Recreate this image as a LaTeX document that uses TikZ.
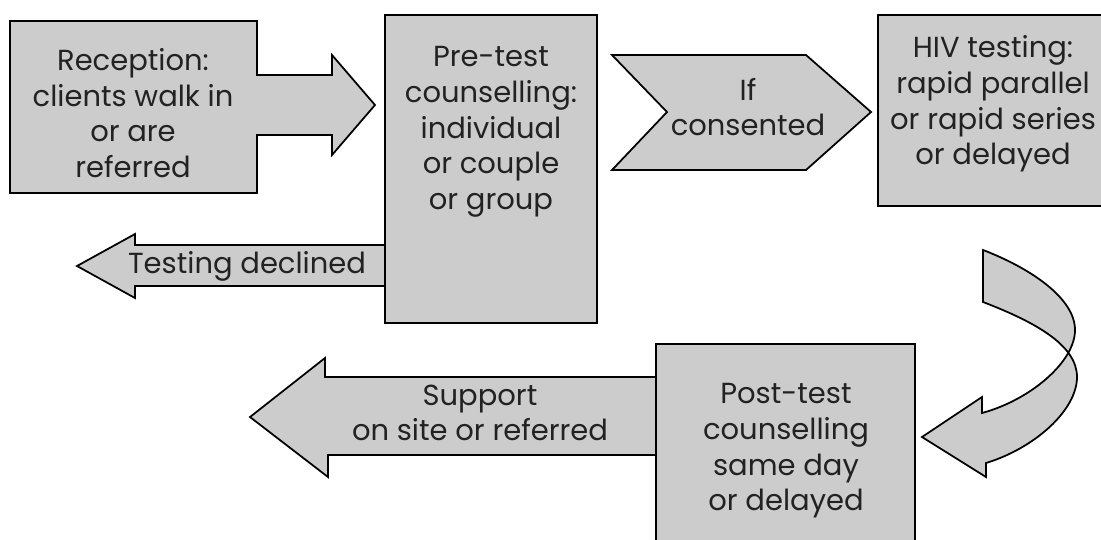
\documentclass[tikz,border=0pt]{standalone}
\usepackage{fontspec}
\setmainfont{Poppins}
\definecolor{boxgray}{HTML}{CCCCCC}
\definecolor{txtgray}{HTML}{222222}
\tikzset{
  blk/.style={draw=black, fill=boxgray, line width=1pt, line join=miter},
  lbl/.style={align=center, text=txtgray, inner sep=0pt,
    font=\fontsize{16.5}{20.3}\selectfont},
}
\begin{document}
\begin{tikzpicture}[x=0.02cm, y=-0.02cm]
\useasboundingbox (0,0) rectangle (1101,539);
\clip (0,0) rectangle (1101,539);
% reception box with its arrow
\draw[blk] (10,21) -- (257,21) -- (257,75) -- (332,75) -- (332,55) -- (375,105)
  -- (332,155) -- (332,135) -- (257,135) -- (257,193) -- (10,193) -- cycle;
% declined arrow, then the pre-test box over its end
\draw[blk] (386,245) -- (135,245) -- (135,234) -- (77,266) -- (135,298)
  -- (135,286) -- (386,286);
\draw[blk] (385,15) rectangle (597,323);
% consent chevron
\draw[blk] (612,55) -- (806,55) -- (871,112) -- (806,170) -- (612,170)
  -- (667,112) -- cycle;
% HIV testing box
\draw[blk] (878,15) rectangle (1110,206);
% twisted arrow down to post-test
\draw[blk] (983,250) .. controls (1030,268) and (1075,298) .. (1075,330)
  .. controls (1075,362) and (1030,400) .. (982,413) -- (982,397)
  -- (922,437) -- (986,477) -- (986,463)
  .. controls (1035,448) and (1077,410) .. (1077,377)
  .. controls (1077,345) and (1035,322) .. (983,302) -- cycle;
% support arrow and post-test box
\draw[blk] (657,377) -- (325,377) -- (325,358) -- (250,417) -- (328,477)
  -- (328,455) -- (657,455);
\draw[blk] (656,344) rectangle (915,545);

\node[lbl] (rec) at (133,113) {Reception:\\clients walk in\\or are\\referred};
\node[lbl] (pre) at (491,132) {Pre-test\\counselling:\\individual\\or couple\\or group};
\node[lbl] (dec) at (247,266) {Testing declined};
\node[lbl] (cons) at (748,107) {If\\consented};
\node[lbl] (hiv) at (993,104) {HIV testing:\\rapid parallel\\or rapid series\\or delayed};
\node[lbl] (post) at (786,451) {Post-test\\counselling\\same day\\or delayed};
\node[lbl] (sup) at (480,413) {Support\\on site or referred};
\end{tikzpicture}
\end{document}
